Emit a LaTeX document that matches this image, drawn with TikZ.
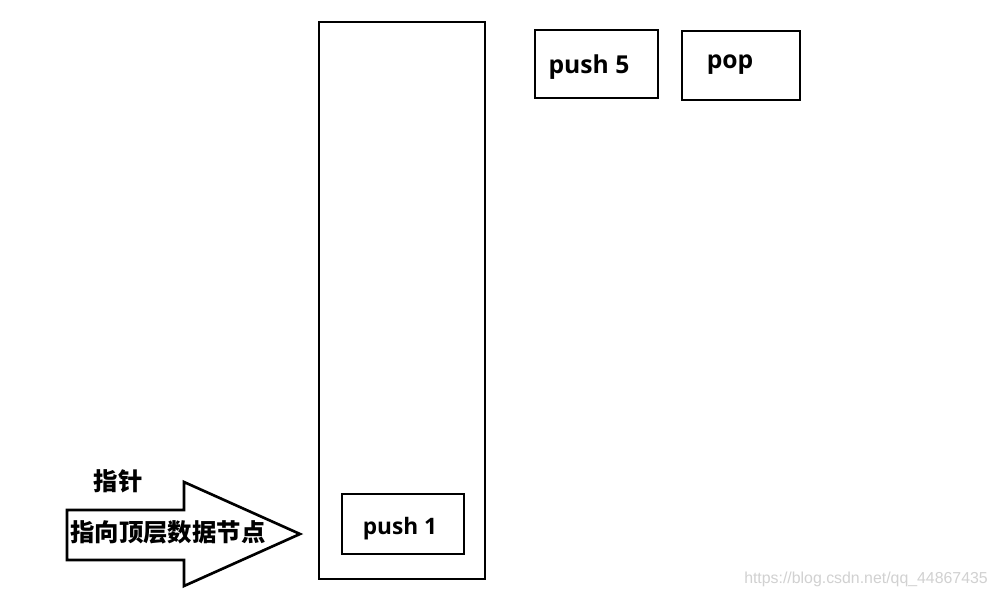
\documentclass[tikz,border=0pt]{standalone}
\usepackage{fontspec}
\setmainfont{Open Sans}
\newfontfamily\cjk{Noto Sans CJK SC}
\newfontfamily\wm{Liberation Sans}
\begin{document}
\begin{tikzpicture}[x=0.75pt,y=-0.75pt,
  box/.style={draw,line width=2pt},
  lbl/.style={font=\fontsize{18.5}{20}\selectfont\bfseries,inner sep=0pt},
  cjklbl/.style={font=\cjk\fontsize{18.3}{20}\selectfont\bfseries,inner sep=0pt}]
\useasboundingbox[fill=white] (0,0) rectangle (997,597);
% stack
\draw[box] (319,22) rectangle (485,579);
% boxes
\draw[box] (535,30) rectangle (658,98);
\draw[box] (682,31) rectangle (800,100);
\draw[box] (342,494) rectangle (464,554);
\node[lbl] (p5) at (589,67) {push 5};
\node[lbl] (pop) at (730,65) {pop};
\node[lbl,font=\fontsize{17}{19}\selectfont\bfseries] (p1) at (400,529) {push 1};
% arrow
\draw[line width=2pt,line join=miter] (67,510) -- (184,510) -- (184,482) -- (300,534) -- (184,586) -- (184,560) -- (67,560) -- cycle;
\node[cjklbl] (ptr) at (118,481) {指针};
\node[cjklbl] (desc) at (168,532) {指向顶层数据节点};
% watermark
\node[font=\wm\fontsize{11.9}{13}\selectfont,text=black!18,inner sep=0pt] (wmk) at (866,579) {https://blog.csdn.net/qq\_44867435};
\end{tikzpicture}
\end{document}
